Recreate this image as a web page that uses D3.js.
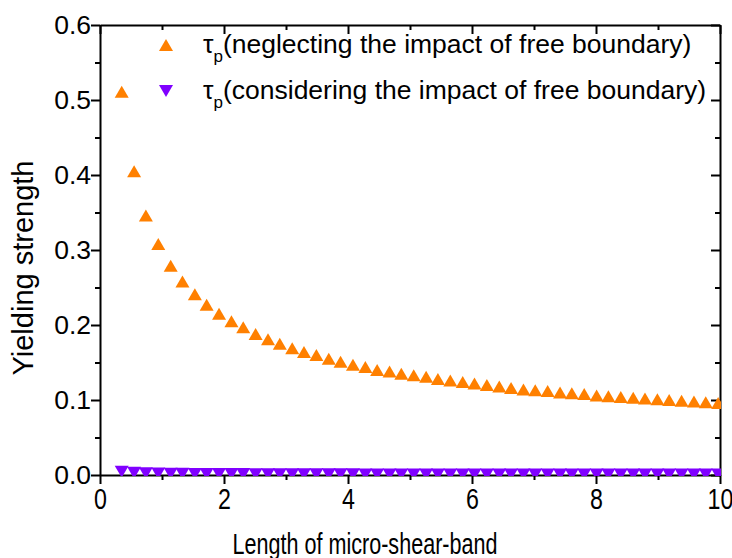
<!DOCTYPE html>
<html>
<head>
<meta charset="utf-8">
<script src="https://cdn.jsdelivr.net/npm/d3@7"></script>
<style>
  body { margin: 0; background: #fff; }
  text { font-family: Arial, "Liberation Sans", sans-serif; fill: #000; }
</style>
</head>
<body>
<svg id="chart" width="732" height="558"></svg>
<script>
// band length (x) for every sample
const lengths = [0.35,0.55,0.74,0.94,1.14,1.33,1.53,1.72,1.92,2.12,
  2.31,2.51,2.71,2.90,3.10,3.29,3.49,3.69,3.88,4.08,
  4.28,4.47,4.67,4.86,5.06,5.26,5.45,5.65,5.85,6.04,
  6.24,6.44,6.63,6.83,7.02,7.22,7.42,7.61,7.81,8.01,
  8.20,8.40,8.60,8.79,8.99,9.18,9.38,9.58,9.77,9.97]

// tau_p neglecting free boundary
const tauNeglect = [0.511,0.405,0.346,0.308,0.279,0.258,0.241,0.227,0.215,0.205,
  0.197,0.188,0.181,0.175,0.169,0.164,0.160,0.155,0.151,0.147,
  0.144,0.140,0.138,0.135,0.133,0.131,0.128,0.126,0.124,0.122,
  0.120,0.118,0.116,0.114,0.113,0.112,0.110,0.109,0.108,0.106,
  0.105,0.104,0.103,0.102,0.101,0.100,0.099,0.098,0.097,0.096]

// tau_p considering free boundary
const tauConsider = [0.0045,0.0030,0.0025,0.0021,0.0018,0.0016,0.0015,0.0014,0.0013,0.0012,
  0.0012,0.0011,0.0011,0.0010,0.0010,0.0010,0.0009,0.0009,0.0009,0.0009,
  0.0008,0.0008,0.0008,0.0008,0.0008,0.0008,0.0007,0.0007,0.0007,0.0007,
  0.0007,0.0007,0.0007,0.0007,0.0007,0.0006,0.0006,0.0006,0.0006,0.0006,
  0.0006,0.0006,0.0006,0.0006,0.0006,0.0006,0.0006,0.0006,0.0006,0.0006]

const xTicks = [0, 2, 4, 6, 8, 10]
const yTicks = [0.0, 0.1, 0.2, 0.3, 0.4, 0.5, 0.6]
const legendLabels = ["(neglecting the impact of free boundary)", "(considering the impact of free boundary)"]

const orange = "#ff8000", violet = "#8000ff"
const svg = d3.select("#chart")
const margin = {left: 100, top: 25, right: 12, bottom: 83}
const W = 732 - margin.left - margin.right, H = 558 - margin.top - margin.bottom

const x = d3.scaleLinear().domain([0, 10]).range([margin.left, margin.left + W])
const y = d3.scaleLinear().domain([0, 0.6]).range([margin.top + H, margin.top])

const minorX = d3.range(1, 10, 2)
const minorY = [0.05, 0.15, 0.25, 0.35, 0.45, 0.55]

function styleAxis(g) {
  g.select(".domain").attr("stroke-width", 2)
  g.selectAll(".tick line").attr("stroke-width", 2)
}

// bottom axis
const gx = svg.append("g").attr("transform", `translate(0,${margin.top + H})`)
  .call(d3.axisBottom(x).tickValues(xTicks).tickSize(9).tickSizeOuter(0).tickFormat(d3.format("d")))
gx.call(styleAxis)
gx.selectAll(".tick text").attr("font-size", 29).attr("y", 13)
  .attr("transform", "scale(0.8,1)")
svg.append("g").attr("transform", `translate(0,${margin.top + H})`)
  .call(d3.axisBottom(x).tickValues(minorX).tickSize(5).tickSizeOuter(0).tickFormat(""))
  .call(styleAxis).select(".domain").remove()

// top axis (ticks inward)
svg.append("g").attr("transform", `translate(0,${margin.top})`)
  .call(d3.axisTop(x).tickValues(xTicks).tickSize(-9).tickSizeOuter(0).tickFormat(""))
  .call(styleAxis)
svg.append("g").attr("transform", `translate(0,${margin.top})`)
  .call(d3.axisTop(x).tickValues(minorX).tickSize(-5).tickSizeOuter(0).tickFormat(""))
  .call(styleAxis).select(".domain").remove()

// left axis
const gy = svg.append("g").attr("transform", `translate(${margin.left},0)`)
  .call(d3.axisLeft(y).tickValues(yTicks).tickSize(9).tickSizeOuter(0).tickFormat(d3.format(".1f")))
gy.call(styleAxis)
gy.selectAll(".tick text").attr("font-size", 26.5).attr("x", -9)
svg.append("g").attr("transform", `translate(${margin.left},0)`)
  .call(d3.axisLeft(y).tickValues(minorY).tickSize(5).tickSizeOuter(0).tickFormat(""))
  .call(styleAxis).select(".domain").remove()

// right axis (ticks inward)
svg.append("g").attr("transform", `translate(${margin.left + W},0)`)
  .call(d3.axisRight(y).tickValues(yTicks).tickSize(-9).tickSizeOuter(0).tickFormat(""))
  .call(styleAxis)
svg.append("g").attr("transform", `translate(${margin.left + W},0)`)
  .call(d3.axisRight(y).tickValues(minorY).tickSize(-5).tickSizeOuter(0).tickFormat(""))
  .call(styleAxis).select(".domain").remove()

// axis titles
svg.append("text").attr("x", 365).attr("y", 554).attr("text-anchor", "middle")
  .attr("font-size", 30).attr("textLength", 265).attr("lengthAdjust", "spacingAndGlyphs")
  .text("Length of micro-shear-band")
svg.append("text").attr("transform", `translate(33,${y(0.3) + 18}) rotate(-90)`)
  .attr("text-anchor", "middle").attr("font-size", 29)
  .text("Yielding strength")

// markers
svg.append("clipPath").attr("id", "plotclip").append("rect")
  .attr("x", margin.left - 1).attr("y", margin.top - 1).attr("width", W + 2).attr("height", H + 2)

const upTri = "M0,-6L7,6L-7,6Z", downTri = "M0,6L7,-6L-7,-6Z"
const marks = svg.append("g").attr("clip-path", "url(#plotclip)")

marks.selectAll(".neg").data(tauNeglect).join("path").attr("class", "neg")
  .attr("d", upTri).attr("fill", orange)
  .attr("transform", (d, i) => `translate(${x(lengths[i])},${y(d)})`)

marks.selectAll(".con").data(tauConsider).join("path").attr("class", "con")
  .attr("d", downTri).attr("fill", violet)
  .attr("transform", (d, i) => `translate(${x(lengths[i])},${y(d)})`)

// legend
const legend = svg.append("g")
const rows = [{sym: upTri, col: orange, yy: 45}, {sym: downTri, col: violet, yy: 91}]
rows.forEach((r, i) => {
  legend.append("path").attr("d", r.sym).attr("fill", r.col).attr("transform", `translate(166,${r.yy})`)
  const t = legend.append("text").attr("x", 203).attr("y", r.yy + 8).attr("font-size", 26.5)
  t.append("tspan").text("τ")
  t.append("tspan").attr("font-size", 17).attr("dy", 9).text("p")
  t.append("tspan").attr("dy", -9).text(legendLabels[i])
})
</script>
</body>
</html>
